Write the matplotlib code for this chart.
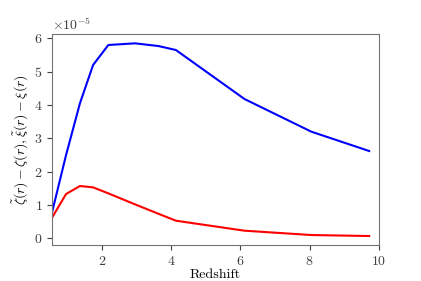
import matplotlib
matplotlib.use('Agg')
from matplotlib import pyplot as plt

redshift = [0.57, 0.97, 1.37, 1.75, 2.19, 2.96, 3.63, 4.14, 6.12, 8.05, 9.72]
zeta_diff = [0.8e-5, 2.5e-5, 4.05e-5, 5.2e-5, 5.8e-5, 5.85e-5, 5.77e-5, 5.65e-5, 4.18e-5, 3.2e-5, 2.62e-5]
xi_diff = [0.63e-5, 1.33e-5, 1.57e-5, 1.53e-5, 1.35e-5, 1.02e-5, 0.74e-5, 0.53e-5, 0.23e-5, 0.1e-5, 0.07e-5]

plt.rcParams['font.family'] = 'serif'
plt.rcParams['font.serif'] = ['cmr10']
plt.rcParams['mathtext.fontset'] = 'cm'
plt.rcParams['axes.formatter.use_mathtext'] = True
plt.rcParams['axes.unicode_minus'] = False

fig = plt.figure(figsize=(4.21, 2.81), dpi=100)
ax = fig.add_axes([0.124, 0.128, 0.776, 0.751])
ax.plot(redshift, zeta_diff, color='blue', lw=1.5)
ax.plot(redshift, xi_diff, color='red', lw=1.5)

ax.set_xlim(redshift[0], 10)
ax.set_ylim(-0.2e-5, 6.13e-5)
ax.set_xticks([2, 4, 6, 8, 10])
ax.set_yticks([i * 1e-5 for i in range(7)])
ax.set_xlabel('Redshift', fontsize=10, labelpad=1)
ax.set_ylabel(r'$\tilde{\zeta}(r)-\zeta(r),\tilde{\xi}(r)-\xi(r)$', fontsize=10, labelpad=2)
ax.tick_params(labelsize=10, colors='0.25', length=3.5)
ax.yaxis.get_offset_text().set_fontsize(10)
for s in ax.spines.values():
    s.set_color('0.45')

fig.savefig('out.png', dpi=100)
